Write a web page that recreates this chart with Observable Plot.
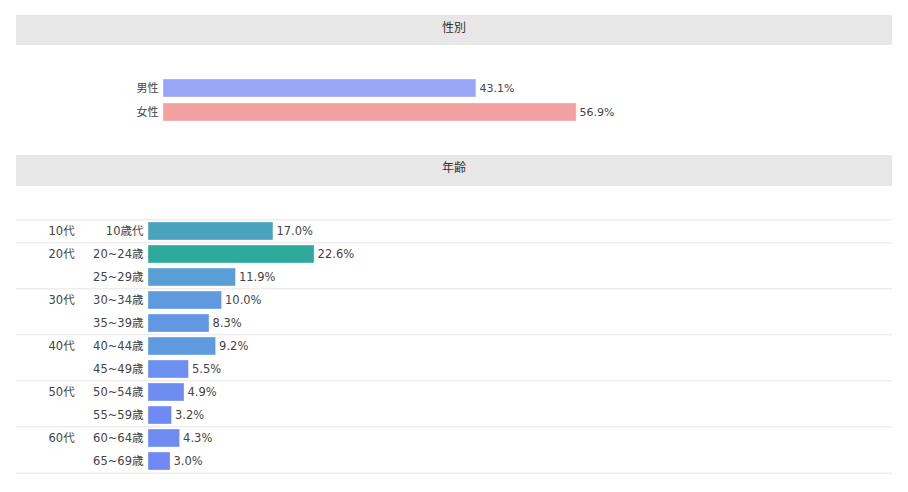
<!DOCTYPE html>
<html>
<head>
<meta charset="utf-8">
<script src="https://cdn.jsdelivr.net/npm/d3@7"></script>
<script src="https://cdn.jsdelivr.net/npm/@observablehq/plot@0.6"></script>
<style>
  html, body { margin: 0; padding: 0; background: #fff; }
  body { width: 908px; font-family: "DejaVu Sans", "Noto Sans CJK JP", sans-serif; }
  .hdr { margin-left: 16px; width: 876px; background: #e7e7e7; color: #333;
         font-size: 12px; text-align: center; box-sizing: border-box; }
  #h1 { margin-top: 15px; height: 30px; line-height: 26px; }
  #h2 { height: 31px; line-height: 26px; }
  svg { display: block; }
</style>
</head>
<body>
<div class="hdr" id="h1">性別</div>
<div id="c1"></div>
<div class="hdr" id="h2">年齢</div>
<div id="c2"></div>
<script>
// Gender
const genderLabels = ["男性", "女性"];
const genderValues = [43.1, 56.9];

// Age
const ageGroups = ["10代", "20代", "20代", "30代", "30代", "40代", "40代", "50代", "50代", "60代", "60代"];
const ageLabels = ["10歳代", "20~24歳", "25~29歳", "30~34歳", "35~39歳", "40~44歳", "45~49歳", "50~54歳", "55~59歳", "60~64歳", "65~69歳"];
const ageValues = [17.0, 22.6, 11.9, 10.0, 8.3, 9.2, 5.5, 4.9, 3.2, 4.3, 3.0];

const gender = genderLabels.map((l, i) => ({label: l, value: genderValues[i]}));
const age = ageLabels.map((l, i) => ({label: l, group: ageGroups[i], value: ageValues[i]}));
const groupStarts = age.filter((d, i) => i === 0 || ageGroups[i - 1] !== d.group);
const lastRow = [age[age.length - 1]];

const font = "'DejaVu Sans', 'Noto Sans CJK JP', sans-serif";
const fmt = v => v.toFixed(1) + "%";

const p1 = Plot.plot({
  width: 908, height: 110,
  marginLeft: 163, marginRight: 19, marginTop: 34, marginBottom: 34,
  style: {fontFamily: font, fontSize: "11px", color: "#444", background: "#fff"},
  x: {domain: [0, 100], axis: null},
  y: {domain: genderLabels, paddingInner: 0.25, paddingOuter: 0, label: null},
  color: {domain: genderLabels, range: ["#97a6f7", "#f3a0a1"]},
  marks: [
    Plot.barX(gender, {x: "value", y: "label", fill: "label", stroke: "#fff", strokeOpacity: 0.6, strokeWidth: 0.6}),
    Plot.text(gender, {x: "value", y: "label", text: d => fmt(d.value), textAnchor: "start", dx: 3, fill: "#444", fontSize: 11}),
    Plot.axisY({tickSize: 0, tickPadding: 5, label: null, fontSize: 11, fill: "#444"})
  ]
});
document.getElementById("c1").appendChild(p1);

const step = 23.4;
const p2 = Plot.plot({
  width: 908, height: 306,
  marginLeft: 148, marginRight: 25, marginTop: 34, marginBottom: 20,
  style: {fontFamily: font, fontSize: "11.5px", color: "#444", background: "#fff"},
  x: {domain: [0, 100], axis: null},
  y: {domain: ageLabels, paddingInner: 0.22, paddingOuter: 0, label: null},
  color: {type: "linear", domain: [3, 5.5, 8.3, 11.9, 17, 22.6],
          range: ["#7088f5", "#6d8ff0", "#6197e3", "#5a9ed6", "#4aa3bd", "#2eaa9c"], interpolate: "rgb"},
  marks: [
    Plot.ruleY(groupStarts, {y: "label", dy: -step / 2, stroke: "#e6e6e6", strokeWidth: 1, insetLeft: -132, insetRight: -9}),
    Plot.ruleY(lastRow, {y: "label", dy: step / 2, stroke: "#e6e6e6", strokeWidth: 1, insetLeft: -132, insetRight: -9}),
    Plot.barX(age, {x: "value", y: "label", fill: "value", stroke: "#fff", strokeOpacity: 0.6, strokeWidth: 0.6}),
    Plot.text(age, {x: "value", y: "label", text: d => fmt(d.value), textAnchor: "start", dx: 3, fill: "#444", fontSize: 11.5}),
    Plot.text(groupStarts, {y: "label", text: "group", frameAnchor: "left", textAnchor: "start", dx: -100, fill: "#444", fontSize: 11.5}),
    Plot.axisY({tickSize: 0, tickPadding: 5, label: null, fontSize: 11.5, fill: "#444"})
  ]
});
document.getElementById("c2").appendChild(p2);
</script>
</body>
</html>
